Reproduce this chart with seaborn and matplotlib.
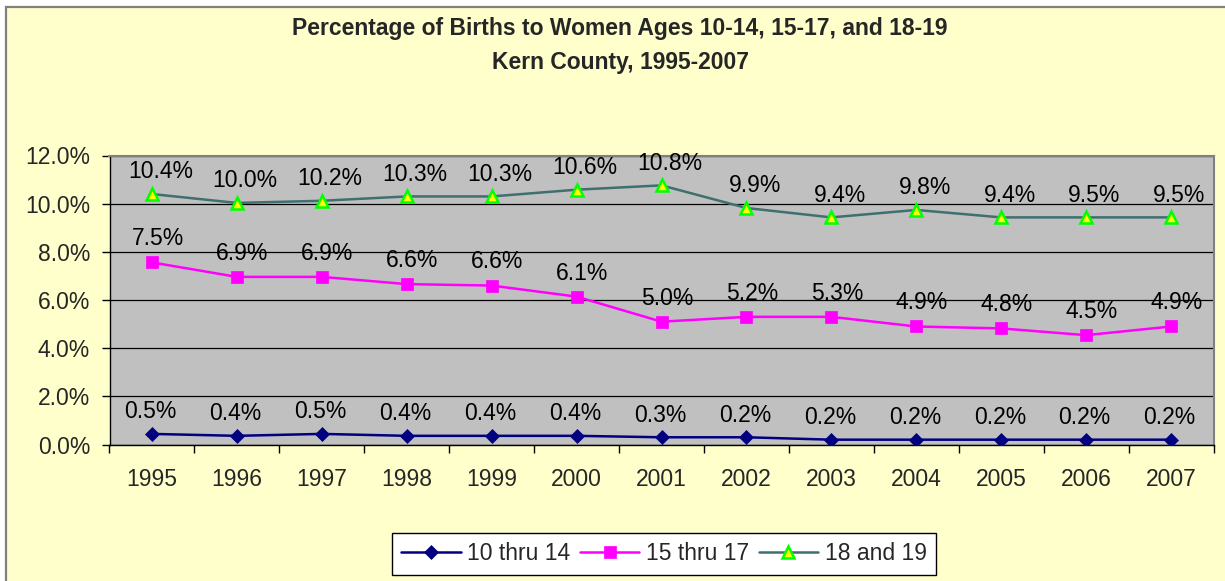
import pandas as pd
import numpy as np
import matplotlib.pyplot as plt
import matplotlib.patches as mpatches
import seaborn as sns

# ---------------------------
# Data (percent of births)
# ---------------------------
years = ['1995', '1996', '1997', '1998', '1999', '2000', '2001',
         '2002', '2003', '2004', '2005', '2006', '2007']

age_10_14 = [0.44, 0.36, 0.44, 0.36, 0.36, 0.36, 0.30, 0.30, 0.20, 0.20, 0.20, 0.20, 0.20]
age_15_17 = [7.56, 6.96, 6.96, 6.66, 6.60, 6.14, 5.10, 5.30, 5.30, 4.90, 4.82, 4.54, 4.90]
age_18_19 = [10.40, 10.03, 10.12, 10.30, 10.30, 10.58, 10.76, 9.82, 9.43, 9.74, 9.43, 9.43, 9.43]

labels_10_14 = ['0.5%', '0.4%', '0.5%', '0.4%', '0.4%', '0.4%', '0.3%',
                '0.2%', '0.2%', '0.2%', '0.2%', '0.2%', '0.2%']
labels_15_17 = ['7.5%', '6.9%', '6.9%', '6.6%', '6.6%', '6.1%', '5.0%',
                '5.2%', '5.3%', '4.9%', '4.8%', '4.5%', '4.9%']
labels_18_19 = ['10.4%', '10.0%', '10.2%', '10.3%', '10.3%', '10.6%', '10.8%',
                '9.9%', '9.4%', '9.8%', '9.4%', '9.5%', '9.5%']

series_names = ['10 thru 14', '15 thru 17', '18 and 19']

# ---------------------------
# Plot
# ---------------------------
sns.set_style('white')
plt.rcParams['font.family'] = ['Liberation Sans', 'DejaVu Sans']
FS = 16.5

fig = plt.figure(figsize=(12.25, 5.81), dpi=100, facecolor='white')

# chart area background with border (cut off at right / bottom)
fig.add_artist(mpatches.Rectangle((6 / 1225, -0.1), 1.2, 1 - 7 / 581 + 0.1,
                                  transform=fig.transFigure, facecolor='#FFFFCC',
                                  edgecolor='#808080', linewidth=1.6, zorder=-10))

ax = fig.add_axes([109.5 / 1225, 1 - 444.5 / 581, 1104 / 1225, 289 / 581])
ax.set_facecolor('#C0C0C0')

styles = [
    dict(color='#000080', marker='D', markersize=7.5, markerfacecolor='#000080',
         markeredgecolor='#000080', markeredgewidth=0.5),
    dict(color='#FF00FF', marker='s', markersize=8.5, markerfacecolor='#FF00FF',
         markeredgecolor='#FF00FF', markeredgewidth=0.5),
    dict(color='#3F6F6F', marker='^', markersize=9, markerfacecolor='#FFFF00',
         markeredgecolor='#00FF00', markeredgewidth=1.8),
]
all_values = [age_10_14, age_15_17, age_18_19]
all_labels = [labels_10_14, labels_15_17, labels_18_19]
label_offsets = [(-1, 16), (4, 17), (6, 16)]

for name, vals, st in zip(series_names, all_values, styles):
    df = pd.DataFrame({'Year': years, 'Pct': vals})
    sns.lineplot(data=df, x='Year', y='Pct', ax=ax, label=name,
                 linewidth=1.8, zorder=3, **st)

for vals, labs, off in zip(all_values, all_labels, label_offsets):
    for i, (v, t) in enumerate(zip(vals, labs)):
        ax.annotate(t, (i, v), xytext=off, textcoords='offset points',
                    ha='center', va='center', fontsize=FS, color='black', zorder=4)

ax.set_xlim(-0.5, len(years) - 0.5)
ax.set_ylim(0, 12)
ax.set_yticks(np.arange(0, 13, 2))
ax.set_yticklabels([f'{t:.1f}%' for t in np.arange(0, 13, 2)])
ax.set_xticks(range(len(years)))
ax.set_xticklabels(years)
ax.set_xlabel('')
ax.set_ylabel('')
ax.grid(axis='y', color='black', linewidth=0.9)
ax.set_axisbelow(True)

# x ticks sit between categories
ax.set_xticks(np.arange(-0.5, len(years), 1), minor=True)
ax.tick_params(axis='x', which='major', length=0, pad=17, labelsize=FS)
ax.tick_params(axis='x', which='minor', length=6, width=1, color='black', direction='out', bottom=True)
ax.tick_params(axis='y', length=6, width=1, color='black', direction='out', left=True,
               pad=8, labelsize=FS)

for side in ['top', 'right']:
    ax.spines[side].set_color('#808080')
    ax.spines[side].set_linewidth(1.5)
for side in ['left', 'bottom']:
    ax.spines[side].set_color('black')
    ax.spines[side].set_linewidth(1.0)

# legend
handles, lbls = ax.get_legend_handles_labels()
ax.get_legend().remove()
leg = fig.legend(handles, lbls, loc='center', bbox_to_anchor=(664 / 1225, 1 - 554 / 581),
                 ncol=3, frameon=True, fancybox=False, framealpha=1,
                 edgecolor='black', facecolor='white', fontsize=FS,
                 handlelength=2.6, handletextpad=0.3, columnspacing=0.4,
                 borderpad=0.4)
leg.get_frame().set_linewidth(1.0)

# title
fig.text(620 / 1225, 1 - 29 / 581, 'Percentage of Births to Women Ages 10-14, 15-17, and 18-19',
         ha='center', va='center', fontsize=16.5, fontweight='bold')
fig.text(620 / 1225, 1 - 62 / 581, 'Kern County, 1995-2007',
         ha='center', va='center', fontsize=16.5, fontweight='bold')

fig.savefig('out.png', dpi=100, facecolor=fig.get_facecolor())
